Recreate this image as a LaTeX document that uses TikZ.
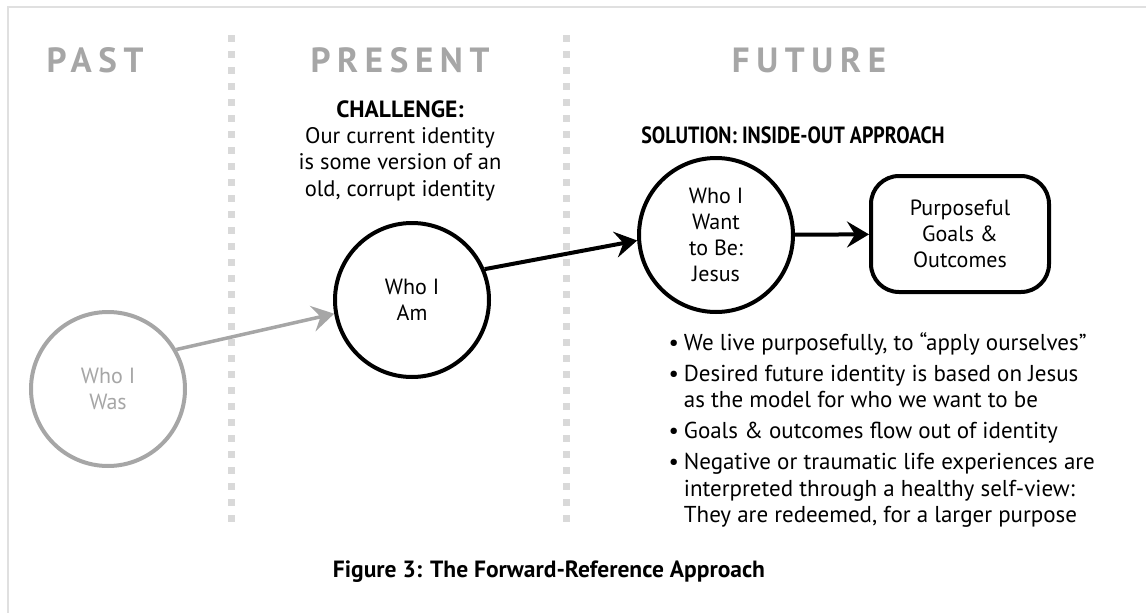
\documentclass[tikz,border=0pt]{standalone}
\usepackage{fontspec}
\setmainfont{PT Sans}
\newfontfamily\headfont[LetterSpace=19]{PT Sans}
\newfontfamily\narrowfont[FakeStretch=0.85]{PT Sans}
\usetikzlibrary{arrows.meta}
\definecolor{headgray}{HTML}{A6A6A6}
\definecolor{dotgray}{HTML}{D9D9D9}
\definecolor{framegray}{HTML}{E0E0E0}

\begin{document}
\begin{tikzpicture}[x=1pt,y=-1pt,
    header/.style={anchor=base, text=headgray, font=\headfont\bfseries\fontsize{35}{40}\selectfont},
    boldline/.style={anchor=base, font=\bfseries\fontsize{23.5}{27}\selectfont},
    body/.style={align=center, font=\fontsize{22}{26}\selectfont},
    stage/.style={body, circle, draw, line width=4, inner sep=0pt, minimum size=154},
    goalbox/.style={body, draw, line width=4, rounded corners=28, minimum width=178, minimum height=116},
    divider/.style={dotgray, line width=7, dash pattern=on 7 off 9},
    flow/.style={line width=4, -{Stealth[length=22, width=26, inset=8]}}
  ]
    \useasboundingbox (0,0) rectangle (1146,613);
    % frame
    \draw[framegray, line width=2.5] (8,613) -- (8,7) -- (1146,7);
    \draw[divider] (231,35) -- (231,524);
    \draw[divider] (566,35) -- (566,524);

    \node[header] (past) at (95,72) {PAST};
    \node[header] (present) at (400,72) {PRESENT};
    \node[header] (future) at (809,72) {FUTURE};

    \node[boldline] (challenge) at (400,117) {CHALLENGE:};
    % base anchor of a multi-line node sits on its last line
    \node[body, anchor=base, font=\fontsize{22.5}{26.5}\selectfont] (challengetext) at (400,196) {Our current identity\\ is some version of an\\ old, corrupt identity};
    \node[boldline, font=\narrowfont\bfseries\fontsize{23.5}{27}\selectfont] (solution) at (793,143) {SOLUTION: INSIDE-OUT APPROACH};

    \node[stage, draw=headgray, text=headgray] (was) at (108,389) {Who I\\ Was};
    \node[stage] (am) at (412,300) {Who I\\ Am};
    \node[stage] (want) at (716,235) {Who I\\ Want\\ to Be:\\ Jesus};
    \node[goalbox] (goals) at (960,234) {Purposeful\\ Goals \&\\ Outcomes};

    \draw[flow, headgray, line width=3.5] (was.30) -- (am.190);
    \draw[flow] (am.23) -- (want.184);
    \draw[flow] (want) -- (goals);

    \node[anchor=north west, font=\fontsize{23}{26.5}\selectfont] (points) at (665,328) {%
      \begin{tabular}{@{}l@{\hspace{5pt}}l@{}}
        \textbullet & We live purposefully, to “apply ourselves”\\[4.5pt]
        \textbullet & Desired future identity is based on Jesus\\
                    & as the model for who we want to be\\[4.5pt]
        \textbullet & Goals \& outcomes flow out of identity\\[4.5pt]
        \textbullet & Negative or traumatic life experiences are\\
                    & interpreted through a healthy self-view:\\
                    & They are redeemed, for a larger purpose
      \end{tabular}};

    \node[boldline] (caption) at (549,577) {Figure 3: The Forward-Reference Approach};
  \end{tikzpicture}
\end{document}
